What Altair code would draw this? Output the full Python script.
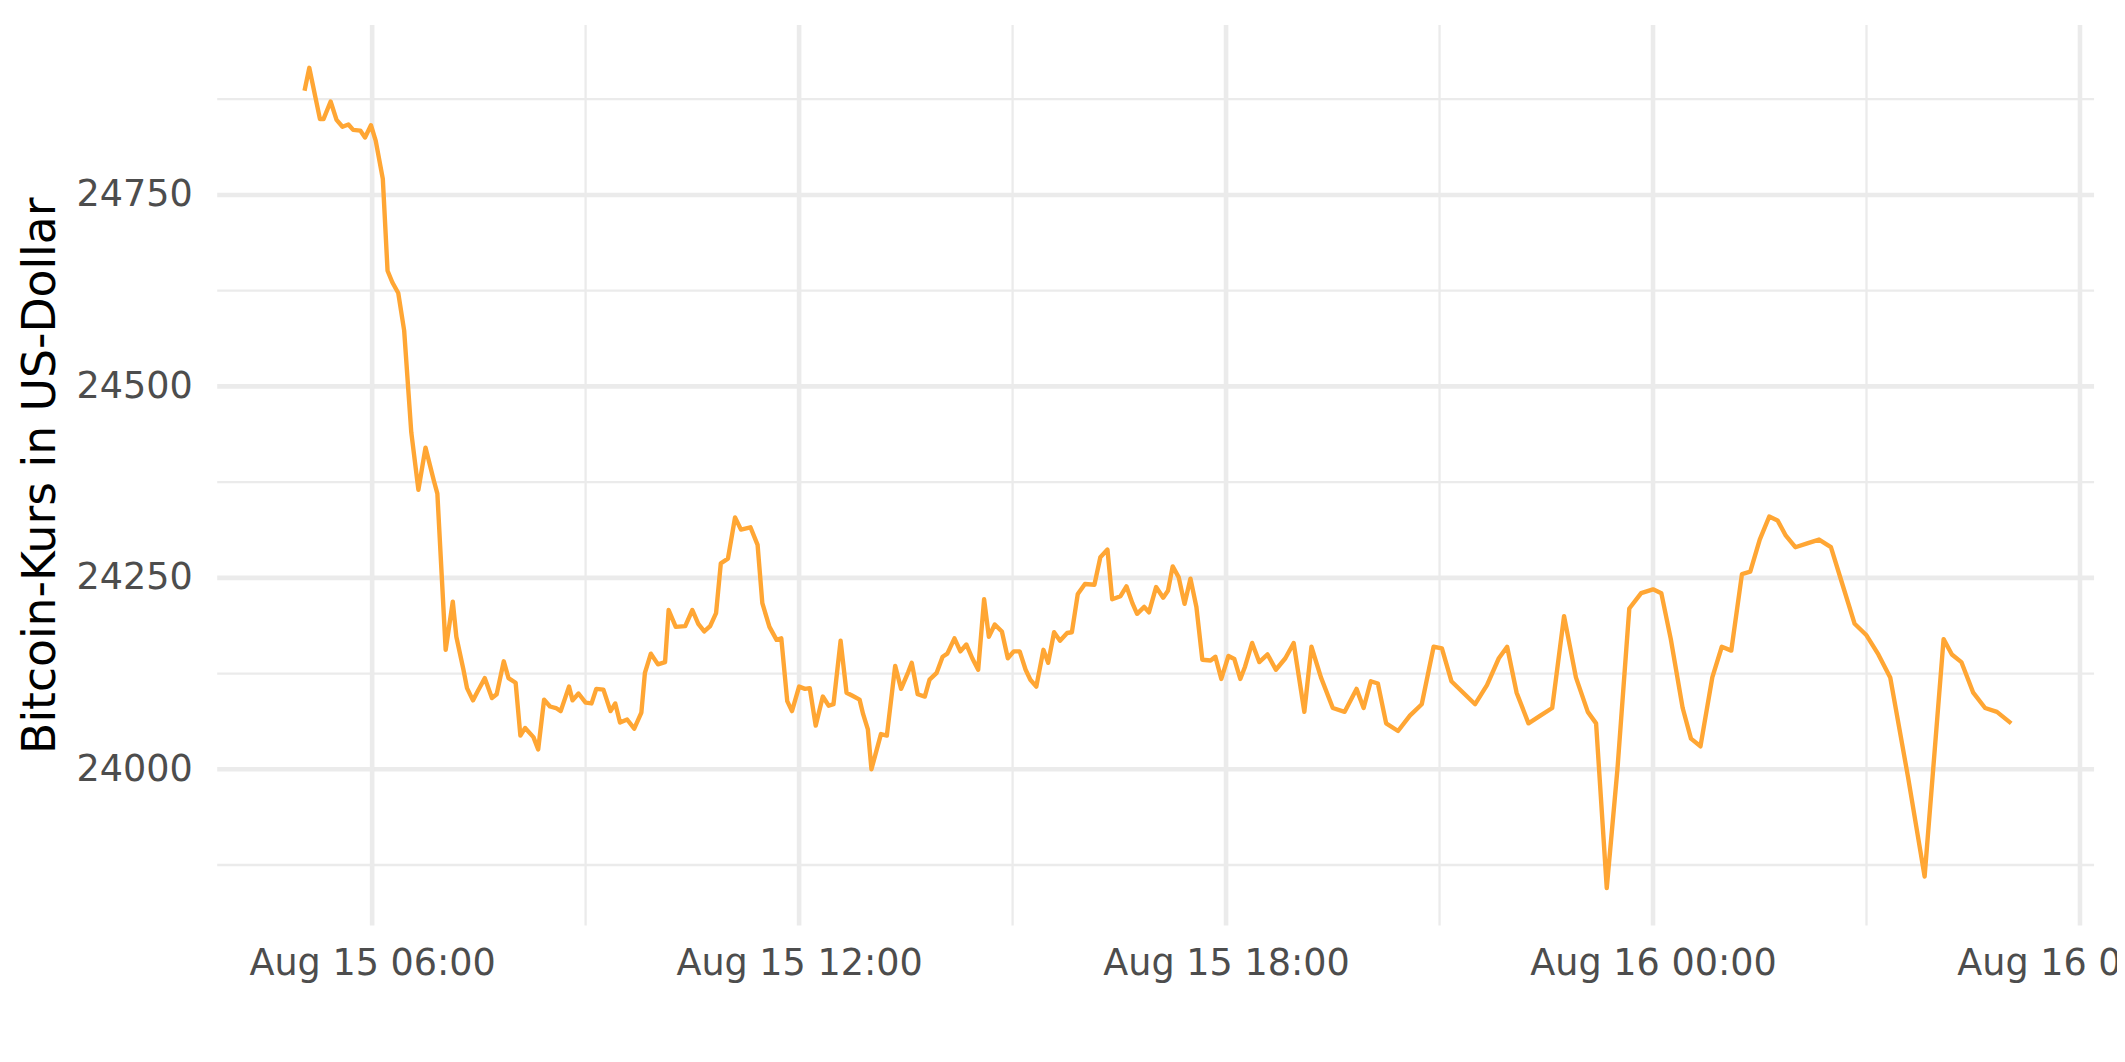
import altair as alt
import pandas as pd

# ---- data: 5-minute BTC/USD prices ----
times = [
    # Aug 15 early morning
    "15 05:03", "15 05:07", "15 05:16", "15 05:19", "15 05:25", "15 05:30", "15 05:35",
    "15 05:40", "15 05:44", "15 05:50", "15 05:54", "15 05:59", "15 06:03", "15 06:09",
    "15 06:13", "15 06:17", "15 06:22", "15 06:27", "15 06:33",
    # after the drop
    "15 06:39", "15 06:45", "15 06:52", "15 06:55", "15 07:02", "15 07:08", "15 07:11",
    "15 07:17", "15 07:20", "15 07:25", "15 07:29", "15 07:35", "15 07:41", "15 07:45",
    "15 07:51", "15 07:55", "15 08:01", "15 08:05", "15 08:09", "15 08:16", "15 08:20",
    "15 08:25", "15 08:30", "15 08:35", "15 08:39", "15 08:46", "15 08:49", "15 08:54",
    "15 09:00", "15 09:05", "15 09:09", "15 09:15", "15 09:21", "15 09:25", "15 09:29",
    "15 09:35", "15 09:41", "15 09:47", "15 09:50", "15 09:55", "15 10:01", "15 10:07",
    "15 10:10", "15 10:16", "15 10:24", "15 10:30", "15 10:35", "15 10:40", "15 10:45",
    "15 10:50", "15 10:54", "15 11:00", "15 11:06", "15 11:11", "15 11:19", "15 11:25",
    "15 11:29", "15 11:35", "15 11:41", "15 11:45", "15 11:50", "15 11:54", "15 12:00",
    "15 12:05", "15 12:09", "15 12:14", "15 12:20", "15 12:25", "15 12:29", "15 12:35",
    "15 12:40", "15 12:45", "15 12:51", "15 12:54", "15 12:58", "15 13:01", "15 13:09",
    "15 13:14", "15 13:21", "15 13:26", "15 13:32", "15 13:35", "15 13:40", "15 13:46",
    "15 13:50", "15 13:56", "15 14:01", "15 14:05", "15 14:11", "15 14:16", "15 14:21",
    "15 14:26", "15 14:31", "15 14:36", "15 14:40", "15 14:45", "15 14:51", "15 14:56",
    "15 15:01", "15 15:06", "15 15:11", "15 15:15", "15 15:20", "15 15:26", "15 15:30",
    "15 15:35", "15 15:40", "15 15:46", "15 15:50", "15 15:55", "15 16:01", "15 16:09",
    "15 16:14", "15 16:20", "15 16:24", "15 16:31", "15 16:36", "15 16:41", "15 16:45",
    "15 16:51", "15 16:55", "15 17:01", "15 17:07", "15 17:11", "15 17:15", "15 17:20",
    "15 17:25", "15 17:30", "15 17:35", "15 17:40", "15 17:47", "15 17:51", "15 17:56",
    "15 18:02", "15 18:07", "15 18:12", "15 18:16",
    # evening / night
    "15 18:22", "15 18:28", "15 18:35", "15 18:42", "15 18:50", "15 18:57", "15 19:06",
    "15 19:12", "15 19:20", "15 19:30", "15 19:40", "15 19:50", "15 19:56", "15 20:02",
    "15 20:08", "15 20:15", "15 20:25", "15 20:35", "15 20:45", "15 20:55", "15 21:02",
    "15 21:10", "15 21:20", "15 21:30", "15 21:40", "15 21:50", "15 21:57", "15 22:05",
    "15 22:15", "15 22:25", "15 22:35", "15 22:45", "15 22:55", "15 23:05", "15 23:12",
    "15 23:21", "15 23:30", "15 23:40", "15 23:50",
    "16 00:00", "16 00:07", "16 00:15", "16 00:25", "16 00:32", "16 00:40", "16 00:50",
    "16 00:58", "16 01:06", "16 01:15", "16 01:22", "16 01:30", "16 01:38", "16 01:45",
    "16 01:52", "16 02:00", "16 02:10", "16 02:20", "16 02:30", "16 02:40", "16 02:50",
    "16 03:00", "16 03:10", "16 03:20", "16 03:35", "16 03:49", "16 04:05", "16 04:12",
    "16 04:20", "16 04:30", "16 04:40", "16 04:50", "16 05:02",
]
prices = [
    24886, 24916, 24849, 24849, 24872, 24848, 24839,
    24842, 24835, 24834, 24825, 24841, 24821, 24771,
    24651, 24636, 24622, 24573, 24440,
    24365, 24420, 24377, 24360, 24156, 24219, 24173,
    24130, 24106, 24090, 24102, 24119, 24093, 24098,
    24141, 24119, 24113, 24044, 24054, 24042, 24026,
    24091, 24082, 24080, 24076, 24108, 24090, 24099,
    24087, 24086, 24105, 24104, 24076, 24086, 24061,
    24065, 24053, 24074, 24126, 24151, 24137, 24140,
    24208, 24186, 24187, 24208, 24190, 24180, 24187,
    24204, 24269, 24275, 24329, 24313, 24316, 24293,
    24217, 24186, 24169, 24171, 24089, 24076, 24108,
    24105, 24106, 24057, 24095, 24083, 24085, 24168,
    24100, 24096, 24091, 24072, 24052, 24000, 24046,
    24044, 24135, 24105, 24127, 24139, 24098, 24095,
    24117, 24126, 24147, 24151, 24171, 24154, 24163,
    24145, 24130, 24222, 24173, 24189, 24180, 24145,
    24154, 24154, 24130, 24117, 24108, 24156, 24139,
    24179, 24168, 24178, 24179, 24229, 24242, 24241,
    24277, 24287, 24222, 24226, 24239, 24217, 24203,
    24212, 24205, 24238, 24224, 24233, 24265, 24251,
    24216, 24249, 24212, 24143, 24142, 24147, 24118,
    24148, 24144, 24118, 24134,
    24165, 24140, 24150, 24130, 24145, 24165, 24075,
    24160, 24120, 24080, 24075, 24105, 24080, 24115,
    24112, 24060, 24050, 24070, 24085, 24160, 24158,
    24115, 24100, 24085, 24110, 24145, 24160, 24100,
    24060, 24070, 24080, 24200, 24120, 24075, 24060,
    23845, 24000, 24210, 24230,
    24235, 24230, 24170, 24080, 24040, 24030, 24120,
    24160, 24155, 24255, 24258, 24300, 24330, 24325,
    24305, 24290, 24295, 24300, 24290, 24240, 24190,
    24175, 24150, 24120, 23990, 23860, 24170, 24150,
    24140, 24100, 24080, 24075, 24060,
]

y_major = [24000, 24250, 24500, 24750]
y_minor = [23875, 24125, 24375, 24625, 24875]
x_major = ["2022-08-15T06:00:00Z", "2022-08-15T12:00:00Z", "2022-08-15T18:00:00Z",
           "2022-08-16T00:00:00Z", "2022-08-16T06:00:00Z"]
x_minor = ["2022-08-15T09:00:00Z", "2022-08-15T15:00:00Z", "2022-08-15T21:00:00Z",
           "2022-08-16T03:00:00Z"]

df = pd.DataFrame({
    "time": ["2022-08-%sT%s:00Z" % (t.split()[0], t.split()[1]) for t in times],
    "price": prices,
})

GRID = "#EBEBEB"
FONT = "DejaVu Sans"

x_scale = alt.Scale(
    type="utc",
    domain=[alt.DateTime(year=2022, month=8, date=15, hours=3, minutes=49, seconds=22, utc=True),
            alt.DateTime(year=2022, month=8, date=16, hours=6, minutes=11, seconds=54, utc=True)],
    nice=False,
)
y_scale = alt.Scale(domain=[23796, 24972], nice=False, zero=False)

x_axis_vals = [alt.DateTime(year=2022, month=8, date=d, hours=h, utc=True)
               for d, h in [(15, 6), (15, 12), (15, 18), (16, 0), (16, 6)]]

x_axis = alt.Axis(values=x_axis_vals, format="%b %d %H:%M", formatType="utc",
                  labelExpr="utcFormat(datum.value, '%b %d %H:%M')", title=None,
                  grid=False, ticks=False, domain=False, labelFlush=False,
                  labelOverlap=False, labelBound=False, labelLimit=1000,
                  labelFont=FONT, labelFontSize=36.7, labelColor="#4D4D4D",
                  labelPadding=20, labelBaseline="top")
y_axis = alt.Axis(values=y_major, format="d", title="Bitcoin-Kurs in US-Dollar",
                  grid=False, ticks=False, domain=False, labelLimit=1000,
                  labelFont=FONT, labelFontSize=36.7, labelColor="#4D4D4D",
                  labelPadding=25, labelBaseline="middle",
                  titleFont=FONT, titleFontSize=45.8, titleColor="#000000",
                  titleFontWeight="normal", titleAngle=270, titleBaseline="middle",
                  titleX=-177, titleLimit=2000)

hminor = alt.Chart(pd.DataFrame({"price": y_minor})).mark_rule(color=GRID, strokeWidth=2.3).encode(
    y=alt.Y("price:Q", scale=y_scale, axis=y_axis))
hmajor = alt.Chart(pd.DataFrame({"price": y_major})).mark_rule(color=GRID, strokeWidth=4.6).encode(
    y=alt.Y("price:Q", scale=y_scale, axis=y_axis))
vminor = alt.Chart(pd.DataFrame({"time": x_minor})).mark_rule(color=GRID, strokeWidth=2.3).encode(
    x=alt.X("time:T", scale=x_scale, axis=x_axis))
vmajor = alt.Chart(pd.DataFrame({"time": x_major})).mark_rule(color=GRID, strokeWidth=4.6).encode(
    x=alt.X("time:T", scale=x_scale, axis=x_axis))

line = alt.Chart(df).mark_line(color="#FFA634", strokeWidth=4.4, strokeJoin="round",
                               strokeCap="butt").encode(
    x=alt.X("time:T", scale=x_scale, axis=x_axis),
    y=alt.Y("price:Q", scale=y_scale, axis=y_axis),
)

chart = alt.layer(hminor, hmajor, vminor, vmajor, line).properties(
    width=1884, height=904,
    autosize=alt.AutoSizeParams(type="none"),
    padding={"left": 210, "top": 15, "right": 23, "bottom": 135},
    background="white",
).configure_view(stroke=None)

chart.save("out.html", embed_options={"renderer": "svg", "actions": False})
